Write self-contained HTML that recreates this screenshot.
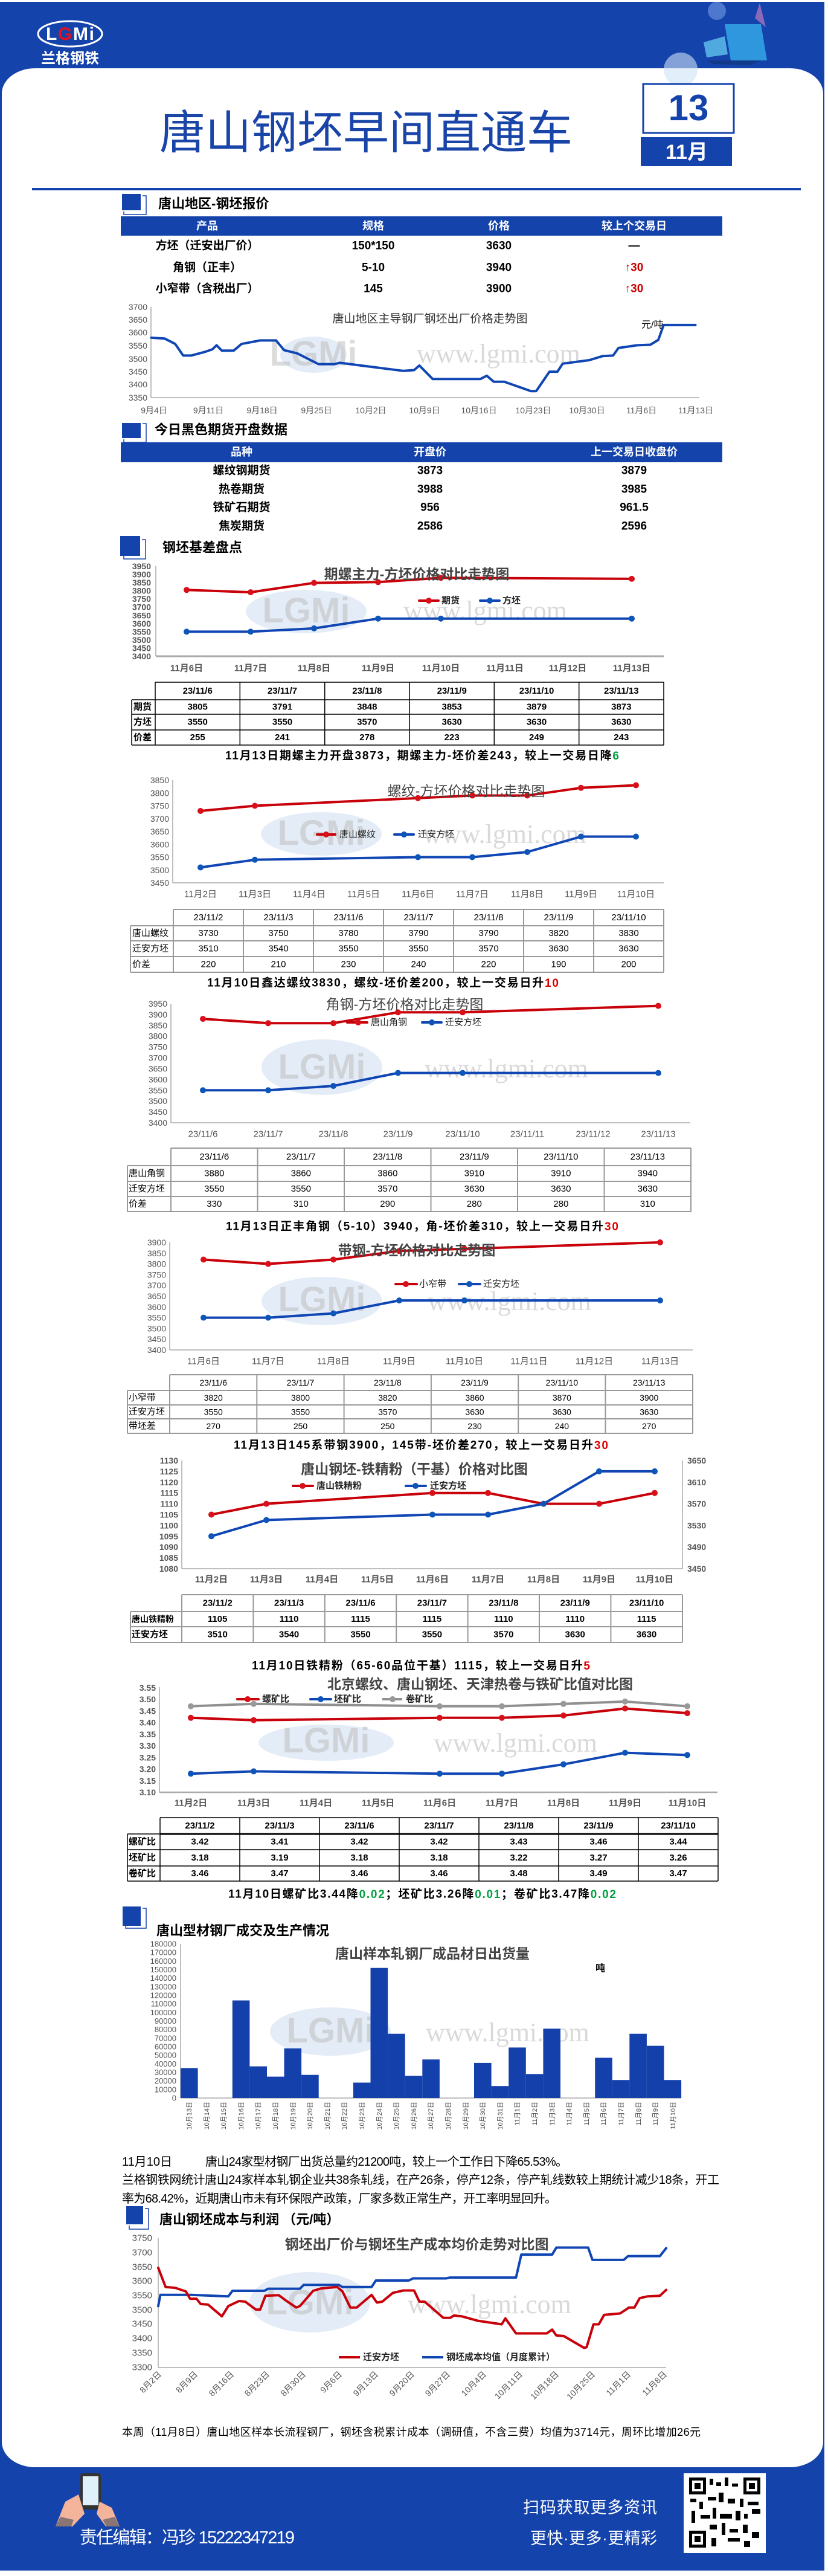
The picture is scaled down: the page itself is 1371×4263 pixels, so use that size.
<!DOCTYPE html>
<html><head><meta charset="utf-8">
<style>
html,body{margin:0;padding:0;background:#fff;}
svg{display:block}
text{font-family:"Liberation Sans","Noto Sans CJK SC",sans-serif;}
.yl{font-size:14px;fill:#555;font-weight:bold;text-anchor:end;dominant-baseline:central}
.xl{font-size:15px;fill:#555;font-weight:bold;text-anchor:middle;dominant-baseline:central}
.tt{font-size:15px;fill:#000;font-weight:bold;text-anchor:middle;dominant-baseline:central}
.tl{font-size:15px;fill:#000;font-weight:bold;dominant-baseline:central}
.cap{font-size:19px;fill:#000;font-weight:bold;dominant-baseline:central}
.sec{font-size:22px;fill:#000;font-weight:bold;dominant-baseline:central}
.th{font-size:18px;fill:#fff;font-weight:bold;text-anchor:middle;dominant-baseline:central}
.td{font-size:19px;fill:#000;font-weight:bold;text-anchor:middle;dominant-baseline:central}
.lg{font-size:15px;fill:#222;font-weight:bold;dominant-baseline:central}
.ctitle{font-size:23px;fill:#444;font-weight:bold;text-anchor:middle;dominant-baseline:central}
.red{fill:none;stroke:#c8000a;stroke-width:4;stroke-linejoin:round;stroke-linecap:round}
.blu{fill:none;stroke:#1046b4;stroke-width:4;stroke-linejoin:round;stroke-linecap:round}
.gry{fill:none;stroke:#909090;stroke-width:4;stroke-linejoin:round}
.rd{fill:#d8101a}.bd{fill:#0d55b8}.gd{fill:#999}
.ax{stroke:#aaa;stroke-width:1.5;fill:none}
.tb{stroke:#000;stroke-width:1.5;fill:none}
.tg{stroke:#999;stroke-width:2;fill:none}
.wm{font-family:"Liberation Serif",serif;font-size:44px;fill:#bbb;opacity:.55}
.wl{font-size:58px;font-weight:bold;fill:#bbb;opacity:.5}
</style></head>
<body>
<svg width="1371" height="4263" viewBox="0 0 1371 4263" xmlns="http://www.w3.org/2000/svg">
<!-- frame -->
<rect x="0" y="3" width="1365" height="4251" fill="#1443ab"/>
<rect x="3" y="113" width="1360" height="3970" rx="55" ry="42" fill="#fff"/>
<!-- header deco -->
<circle cx="1187" cy="18" r="15" fill="#5b86d6" opacity=".8"/>
<circle cx="1127" cy="115" r="28" fill="#cfe3f7" opacity=".6"/>
<polygon points="1200,40 1260,40 1270,100 1210,100" fill="#32a6e6" opacity=".85"/>
<polygon points="1165,70 1200,60 1205,90 1170,95" fill="#5fc4ee" opacity=".8"/>
<polygon points="1170,100 1260,100 1240,108 1180,106" fill="#123a8a"/>
<polygon points="1258,5 1268,45 1250,30" fill="#8a6ab8"/>
<!-- logo -->
<ellipse cx="116" cy="56" rx="53" ry="21" fill="none" stroke="#fff" stroke-width="3"/>
<text x="116" y="66" font-size="30" font-weight="bold" text-anchor="middle" fill="#fff" textLength="80">L<tspan fill="#e5101a">G</tspan>Mi</text>
<text x="116" y="97" font-size="24" text-anchor="middle" fill="#fff" font-weight="bold" textLength="96" dominant-baseline="central">兰格钢铁</text>
<!-- title -->
<text x="264" y="246" font-size="76" fill="#1a45a8" textLength="684" font-family="'Noto Serif CJK SC',serif">唐山钢坯早间直通车</text>
<rect x="1065" y="139" width="150" height="81" fill="#fff" stroke="#1443ab" stroke-width="3"/>
<text x="1140" y="199" font-size="60" font-weight="bold" fill="#1443ab" text-anchor="middle">13</text>
<rect x="1061" y="227" width="151" height="48" fill="#1443ab"/>
<text x="1137" y="252" font-size="34" font-weight="bold" fill="#fff" text-anchor="middle" dominant-baseline="central">11月</text>
<rect x="53" y="311" width="1273" height="4" fill="#1443ab"/>

<!-- section 1 -->
<rect x="202" y="321" width="31" height="27" fill="#1443ab"/><polyline points="236,324 242,324 242,355 205,355 205,350" fill="none" stroke="#1443ab" stroke-width="1.5"/>
<text x="262" y="337" class="sec" font-size="21">唐山地区-钢坯报价</text>
<rect x="200" y="358" width="996" height="32" fill="#1443ab"/>
<text x="343" y="374" class="th">产品</text><text x="618" y="374" class="th">规格</text><text x="826" y="374" class="th">价格</text><text x="1050" y="374" class="th">较上个交易日</text>
<text x="343" y="407" class="td">方坯（迁安出厂价）</text><text x="618" y="407" class="td">150*150</text><text x="826" y="407" class="td">3630</text><text x="1050" y="407" class="td">—</text>
<text x="343" y="443" class="td">角钢（正丰）</text><text x="618" y="443" class="td">5-10</text><text x="826" y="443" class="td">3940</text><text x="1050" y="443" class="td" style="fill:#cc0000">↑30</text>
<text x="343" y="478" class="td">小窄带（含税出厂）</text><text x="618" y="478" class="td">145</text><text x="826" y="478" class="td">3900</text><text x="1050" y="478" class="td" style="fill:#cc0000">↑30</text>

<!-- chart 1 -->
<line x1="250" y1="508" x2="250" y2="658" class="ax"/><line x1="250" y1="658" x2="1158" y2="658" class="ax"/>
<g class="yl" style="font-weight:normal">
<text x="244" y="508">3700</text><text x="244" y="529">3650</text><text x="244" y="550">3600</text><text x="244" y="572">3550</text><text x="244" y="594">3500</text><text x="244" y="615">3450</text><text x="244" y="636">3400</text><text x="244" y="658">3350</text></g>
<g class="xl" style="font-weight:normal;font-size:14px"><text x="255" y="679">9月4日</text><text x="345" y="679">9月11日</text><text x="434" y="679">9月18日</text><text x="524" y="679">9月25日</text><text x="614" y="679">10月2日</text><text x="703" y="679">10月9日</text><text x="793" y="679">10月16日</text><text x="883" y="679">10月23日</text><text x="972" y="679">10月30日</text><text x="1062" y="679">11月6日</text><text x="1152" y="679">11月13日</text></g>
<ellipse cx="519" cy="587" rx="55" ry="30" fill="#c9dcf0" opacity=".5"/><text x="519" y="605" class="wl" text-anchor="middle" font-size="48">LGMi</text>
<text x="690" y="600" class="wm" font-size="36">www.lgmi.com</text>
<text x="712" y="528" font-size="19" fill="#333" text-anchor="middle" dominant-baseline="central">唐山地区主导钢厂钢坯出厂价格走势图</text>
<text x="1062" y="538" font-size="16" fill="#000" dominant-baseline="central">元/吨</text>
<polyline class="blu" stroke-width="3.5" points="250.5,558.9 272.5,560.2 290.1,569.2 303.3,588.4 316.4,588.4 338.4,582.6 351.6,578.1 358.6,571.4 367.4,580.3 386.8,580.3 400,569.2 430.7,563.4 457.1,563.4 470.3,579.4 492.2,584.8 527.4,602.6 553.8,602.6 562.6,600.4 615.3,607.1 668,613.8 685.6,612.5 694.4,604.9 703.2,613.8 716.4,627.2 795.5,627.2 806,621.8 817.5,631.7 835,631.7 879,647.3 887.8,647.3 909.8,615.1 923,615.1 931.7,601.8 975.7,596 997.7,589.3 1015.2,588.4 1024,575.9 1054.8,571.4 1076.8,570.5 1090,562.5 1098.8,537.9 1151.5,537.9"/>

<!-- section 2 -->
<rect x="202" y="700" width="31" height="25" fill="#1443ab"/><polyline points="236,701 242,701 242,732 205,732 205,727" fill="none" stroke="#1443ab" stroke-width="1.5"/>
<text x="256" y="711" class="sec" font-size="21">今日黑色期货开盘数据</text>
<rect x="200" y="732" width="996" height="33" fill="#1443ab"/>
<text x="400" y="748" class="th">品种</text><text x="712" y="748" class="th">开盘价</text><text x="1050" y="748" class="th">上一交易日收盘价</text>
<text x="400" y="779" class="td">螺纹钢期货</text><text x="712" y="779" class="td">3873</text><text x="1050" y="779" class="td">3879</text>
<text x="400" y="810" class="td">热卷期货</text><text x="712" y="810" class="td">3988</text><text x="1050" y="810" class="td">3985</text>
<text x="400" y="840" class="td">铁矿石期货</text><text x="712" y="840" class="td">956</text><text x="1050" y="840" class="td">961.5</text>
<text x="400" y="871" class="td">焦炭期货</text><text x="712" y="871" class="td">2586</text><text x="1050" y="871" class="td">2596</text>

<!-- section 3 -->
<rect x="199" y="887" width="33" height="33" fill="#1443ab"/><polyline points="235,893 241,893 241,925 205,925 205,920" fill="none" stroke="#1443ab" stroke-width="1.5"/>
<text x="269" y="906" class="sec" font-size="24">钢坯基差盘点</text>

<!-- chart A -->
<line x1="258" y1="937" x2="258" y2="1086" class="ax"/><line x1="258" y1="1086" x2="1099" y2="1086" stroke="#aaa" stroke-width="3"/>
<g class="yl"><text x="250" y="937">3950</text><text x="250" y="950.5">3900</text><text x="250" y="964.1">3850</text><text x="250" y="977.6">3800</text><text x="250" y="991.2">3750</text><text x="250" y="1004.7">3700</text><text x="250" y="1018.3">3650</text><text x="250" y="1031.8">3600</text><text x="250" y="1045.4">3550</text><text x="250" y="1058.9">3500</text><text x="250" y="1072.5">3450</text><text x="250" y="1086">3400</text></g>
<g class="xl"><text x="309" y="1106">11月6日</text><text x="415" y="1106">11月7日</text><text x="520" y="1106">11月8日</text><text x="626" y="1106">11月9日</text><text x="730" y="1106">11月10日</text><text x="836" y="1106">11月11日</text><text x="940" y="1106">11月12日</text><text x="1046" y="1106">11月13日</text></g>
<ellipse cx="507" cy="1012" rx="100" ry="36" fill="#c9dcf0" opacity=".5"/><text x="507" y="1030" class="wl" text-anchor="middle">LGMi</text>
<text x="668" y="1025" class="wm">www.lgmi.com</text>
<polyline class="red" points="309,976.3 415,980.1 520,964.6 626,963.3 730,956.2 1046,957.9"/>
<g class="rd"><circle cx="309" cy="976.3" r="5"/><circle cx="415" cy="980.1" r="5"/><circle cx="520" cy="964.6" r="5"/><circle cx="626" cy="963.3" r="5"/><circle cx="730" cy="956.2" r="5"/><circle cx="1046" cy="957.9" r="5"/></g>
<polyline class="blu" points="309,1045.4 415,1045.4 520,1039.9 626,1023.7 730,1023.7 1046,1023.7"/>
<g class="bd"><circle cx="309" cy="1045.4" r="5"/><circle cx="415" cy="1045.4" r="5"/><circle cx="520" cy="1039.9" r="5"/><circle cx="626" cy="1023.7" r="5"/><circle cx="730" cy="1023.7" r="5"/><circle cx="1046" cy="1023.7" r="5"/></g>
<text x="690" y="950" class="ctitle" font-size="25">期螺主力-方坯价格对比走势图</text>
<line x1="694" y1="994" x2="726" y2="994" class="red"/><circle cx="710" cy="994" r="5" class="rd"/><text x="731" y="994" class="lg">期货</text>
<line x1="795" y1="994" x2="827" y2="994" class="blu"/><circle cx="811" cy="994" r="5" class="bd"/><text x="832" y="994" class="lg">方坯</text>
<!-- table A -->
<path class="tb" d="M257,1129H1099M218,1158H1099M218,1182H1099M218,1208H1099M218,1233H1099M218,1158V1233M257,1129V1233M397.3,1129V1233M537.7,1129V1233M678,1129V1233M818.3,1129V1233M958.7,1129V1233M1099,1129V1233"/>
<g class="tt"><text x="327.2" y="1143.5">23/11/6</text><text x="467.5" y="1143.5">23/11/7</text><text x="607.8" y="1143.5">23/11/8</text><text x="748.2" y="1143.5">23/11/9</text><text x="888.5" y="1143.5">23/11/10</text><text x="1028.8" y="1143.5">23/11/13</text>
<text x="327.2" y="1170">3805</text><text x="467.5" y="1170">3791</text><text x="607.8" y="1170">3848</text><text x="748.2" y="1170">3853</text><text x="888.5" y="1170">3879</text><text x="1028.8" y="1170">3873</text>
<text x="327.2" y="1195">3550</text><text x="467.5" y="1195">3550</text><text x="607.8" y="1195">3570</text><text x="748.2" y="1195">3630</text><text x="888.5" y="1195">3630</text><text x="1028.8" y="1195">3630</text>
<text x="327.2" y="1220.5">255</text><text x="467.5" y="1220.5">241</text><text x="607.8" y="1220.5">278</text><text x="748.2" y="1220.5">223</text><text x="888.5" y="1220.5">249</text><text x="1028.8" y="1220.5">243</text></g>
<g class="tl"><text x="221" y="1170">期货</text><text x="221" y="1195">方坯</text><text x="221" y="1220.5">价差</text></g>
<text x="699" y="1251" class="cap" text-anchor="middle" textLength="652">11月13日期螺主力开盘3873，期螺主力-坯价差243，较上一交易日降<tspan fill="#00a040">6</tspan></text>

<!-- chart B -->
<line x1="286" y1="1291" x2="286" y2="1461" class="ax"/><line x1="286" y1="1461" x2="1099" y2="1461" class="ax"/>
<g class="yl" style="font-weight:normal"><text x="280" y="1291">3850</text><text x="280" y="1312.3">3800</text><text x="280" y="1333.5">3750</text><text x="280" y="1354.8">3700</text><text x="280" y="1376">3650</text><text x="280" y="1397.3">3600</text><text x="280" y="1418.5">3550</text><text x="280" y="1439.8">3500</text><text x="280" y="1461">3450</text></g>
<g class="xl" style="font-weight:normal"><text x="332" y="1480">11月2日</text><text x="422" y="1480">11月3日</text><text x="512" y="1480">11月4日</text><text x="602" y="1480">11月5日</text><text x="692" y="1480">11月6日</text><text x="782" y="1480">11月7日</text><text x="873" y="1480">11月8日</text><text x="962" y="1480">11月9日</text><text x="1053" y="1480">11月10日</text></g>
<ellipse cx="532" cy="1380" rx="100" ry="36" fill="#c9dcf0" opacity=".5"/><text x="532" y="1398" class="wl" text-anchor="middle">LGMi</text>
<text x="700" y="1395" class="wm">www.lgmi.com</text>
<polyline class="red" points="332,1342 422,1333.5 692,1320.8 782,1316.5 873,1316.5 962,1303.8 1053,1299.5"/>
<g class="rd"><circle cx="332" cy="1342" r="5"/><circle cx="422" cy="1333.5" r="5"/><circle cx="692" cy="1320.8" r="5"/><circle cx="782" cy="1316.5" r="5"/><circle cx="873" cy="1316.5" r="5"/><circle cx="962" cy="1303.8" r="5"/><circle cx="1053" cy="1299.5" r="5"/></g>
<polyline class="blu" points="332,1435.5 422,1422.8 692,1418.5 782,1418.5 873,1410 962,1384.5 1053,1384.5"/>
<g class="bd"><circle cx="332" cy="1435.5" r="5"/><circle cx="422" cy="1422.8" r="5"/><circle cx="692" cy="1418.5" r="5"/><circle cx="782" cy="1418.5" r="5"/><circle cx="873" cy="1410" r="5"/><circle cx="962" cy="1384.5" r="5"/><circle cx="1053" cy="1384.5" r="5"/></g>
<text x="772" y="1309" class="ctitle" style="font-weight:normal">螺纹-方坯价格对比走势图</text>
<line x1="525" y1="1381" x2="555" y2="1381" class="red"/><circle cx="540" cy="1381" r="5" class="rd"/><text x="562" y="1381" class="lg" style="font-weight:normal">唐山螺纹</text>
<line x1="653" y1="1381" x2="685" y2="1381" class="blu"/><circle cx="669" cy="1381" r="5" class="bd"/><text x="692" y="1381" class="lg" style="font-weight:normal">迁安方坯</text>
<path class="tg" d="M287,1505H1099M216,1532H1099M216,1557H1099M216,1583H1099M216,1609H1099M216,1532V1609M287,1505V1609M403,1505V1609M519,1505V1609M635,1505V1609M751,1505V1609M867,1505V1609M983,1505V1609M1099,1505V1609"/>
<g class="tt" style="font-weight:normal"><text x="345" y="1518.5">23/11/2</text><text x="461" y="1518.5">23/11/3</text><text x="577" y="1518.5">23/11/6</text><text x="693" y="1518.5">23/11/7</text><text x="809" y="1518.5">23/11/8</text><text x="925" y="1518.5">23/11/9</text><text x="1041" y="1518.5">23/11/10</text>
<text x="345" y="1544.5">3730</text><text x="461" y="1544.5">3750</text><text x="577" y="1544.5">3780</text><text x="693" y="1544.5">3790</text><text x="809" y="1544.5">3790</text><text x="925" y="1544.5">3820</text><text x="1041" y="1544.5">3830</text>
<text x="345" y="1570">3510</text><text x="461" y="1570">3540</text><text x="577" y="1570">3550</text><text x="693" y="1570">3550</text><text x="809" y="1570">3570</text><text x="925" y="1570">3630</text><text x="1041" y="1570">3630</text>
<text x="345" y="1596">220</text><text x="461" y="1596">210</text><text x="577" y="1596">230</text><text x="693" y="1596">240</text><text x="809" y="1596">220</text><text x="925" y="1596">190</text><text x="1041" y="1596">200</text></g>
<g class="tl" style="font-weight:normal"><text x="219" y="1544.5">唐山螺纹</text><text x="219" y="1570">迁安方坯</text><text x="219" y="1596">价差</text></g>
<text x="634" y="1627" class="cap" text-anchor="middle" textLength="582">11月10日鑫达螺纹3830，螺纹-坯价差200，较上一交易日升<tspan fill="#d00">10</tspan></text>

<!-- chart C -->
<line x1="283" y1="1661" x2="283" y2="1858" class="ax"/><line x1="283" y1="1858" x2="1143" y2="1858" class="ax"/>
<g class="yl" style="font-weight:normal"><text x="277" y="1661">3950</text><text x="277" y="1678.9">3900</text><text x="277" y="1696.8">3850</text><text x="277" y="1714.7">3800</text><text x="277" y="1732.6">3750</text><text x="277" y="1750.5">3700</text><text x="277" y="1768.5">3650</text><text x="277" y="1786.4">3600</text><text x="277" y="1804.3">3550</text><text x="277" y="1822.2">3500</text><text x="277" y="1840.1">3450</text><text x="277" y="1858">3400</text></g>
<g class="xl" style="font-weight:normal"><text x="336" y="1877">23/11/6</text><text x="444" y="1877">23/11/7</text><text x="552" y="1877">23/11/8</text><text x="659" y="1877">23/11/9</text><text x="766" y="1877">23/11/10</text><text x="873" y="1877">23/11/11</text><text x="982" y="1877">23/11/12</text><text x="1090" y="1877">23/11/13</text></g>
<ellipse cx="533" cy="1766" rx="100" ry="46" fill="#c9dcf0" opacity=".5"/><text x="533" y="1785" class="wl" text-anchor="middle">LGMi</text>
<text x="703" y="1783" class="wm">www.lgmi.com</text>
<polyline class="red" points="336,1686.1 444,1693.2 552,1693.2 659,1675.3 766,1675.3 1090,1664.6"/>
<g class="rd"><circle cx="336" cy="1686.1" r="5"/><circle cx="444" cy="1693.2" r="5"/><circle cx="552" cy="1693.2" r="5"/><circle cx="659" cy="1675.3" r="5"/><circle cx="766" cy="1675.3" r="5"/><circle cx="1090" cy="1664.6" r="5"/></g>
<polyline class="blu" points="336,1804.3 444,1804.3 552,1797.1 659,1775.6 766,1775.6 1090,1775.6"/>
<g class="bd"><circle cx="336" cy="1804.3" r="5"/><circle cx="444" cy="1804.3" r="5"/><circle cx="552" cy="1797.1" r="5"/><circle cx="659" cy="1775.6" r="5"/><circle cx="766" cy="1775.6" r="5"/><circle cx="1090" cy="1775.6" r="5"/></g>
<text x="670" y="1662" class="ctitle" style="font-weight:normal">角钢-方坯价格对比走势图</text>
<line x1="575" y1="1692" x2="608" y2="1692" class="red"/><circle cx="593" cy="1692" r="5" class="rd"/><text x="614" y="1692" class="lg" style="font-weight:normal">唐山角钢</text>
<line x1="699" y1="1692" x2="731" y2="1692" class="blu"/><circle cx="715" cy="1692" r="5" class="bd"/><text x="737" y="1692" class="lg" style="font-weight:normal">迁安方坯</text>
<path class="tg" d="M283,1900H1144M211,1929H1144M211,1955H1144M211,1980H1144M211,2005H1144M211,1929V2005M283,1900V2005M426.5,1900V2005M570,1900V2005M713.5,1900V2005M857,1900V2005M1000.5,1900V2005M1144,1900V2005"/>
<g class="tt" style="font-weight:normal"><text x="354.8" y="1914.5">23/11/6</text><text x="498.3" y="1914.5">23/11/7</text><text x="641.8" y="1914.5">23/11/8</text><text x="785.3" y="1914.5">23/11/9</text><text x="928.8" y="1914.5">23/11/10</text><text x="1072.3" y="1914.5">23/11/13</text>
<text x="354.8" y="1942">3880</text><text x="498.3" y="1942">3860</text><text x="641.8" y="1942">3860</text><text x="785.3" y="1942">3910</text><text x="928.8" y="1942">3910</text><text x="1072.3" y="1942">3940</text>
<text x="354.8" y="1967.5">3550</text><text x="498.3" y="1967.5">3550</text><text x="641.8" y="1967.5">3570</text><text x="785.3" y="1967.5">3630</text><text x="928.8" y="1967.5">3630</text><text x="1072.3" y="1967.5">3630</text>
<text x="354.8" y="1992.5">330</text><text x="498.3" y="1992.5">310</text><text x="641.8" y="1992.5">290</text><text x="785.3" y="1992.5">280</text><text x="928.8" y="1992.5">280</text><text x="1072.3" y="1992.5">310</text></g>
<g class="tl" style="font-weight:normal"><text x="213" y="1942">唐山角钢</text><text x="213" y="1967.5">迁安方坯</text><text x="213" y="1992.5">价差</text></g>
<text x="699" y="2030" class="cap" text-anchor="middle" textLength="650">11月13日正丰角钢（5-10）3940，角-坯价差310，较上一交易日升<tspan fill="#d00">30</tspan></text>

<!-- chart D -->
<line x1="281" y1="2056" x2="281" y2="2234" class="ax"/><line x1="281" y1="2234" x2="1147" y2="2234" class="ax"/>
<g class="yl" style="font-weight:normal"><text x="275" y="2056">3900</text><text x="275" y="2073.8">3850</text><text x="275" y="2091.6">3800</text><text x="275" y="2109.4">3750</text><text x="275" y="2127.2">3700</text><text x="275" y="2145">3650</text><text x="275" y="2162.8">3600</text><text x="275" y="2180.6">3550</text><text x="275" y="2198.4">3500</text><text x="275" y="2216.2">3450</text><text x="275" y="2234">3400</text></g>
<g class="xl" style="font-weight:normal"><text x="337" y="2253">11月6日</text><text x="444" y="2253">11月7日</text><text x="552" y="2253">11月8日</text><text x="661" y="2253">11月9日</text><text x="769" y="2253">11月10日</text><text x="876" y="2253">11月11日</text><text x="984" y="2253">11月12日</text><text x="1093" y="2253">11月13日</text></g>
<ellipse cx="533" cy="2153" rx="100" ry="40" fill="#c9dcf0" opacity=".5"/><text x="533" y="2170" class="wl" text-anchor="middle">LGMi</text>
<text x="708" y="2168" class="wm">www.lgmi.com</text>
<polyline class="red" points="337,2084.5 444,2091.6 552,2084.5 661,2070.2 769,2066.7 1093,2056"/>
<g class="rd"><circle cx="337" cy="2084.5" r="5"/><circle cx="444" cy="2091.6" r="5"/><circle cx="552" cy="2084.5" r="5"/><circle cx="661" cy="2070.2" r="5"/><circle cx="769" cy="2066.7" r="5"/><circle cx="1093" cy="2056" r="5"/></g>
<polyline class="blu" points="337,2180.6 444,2180.6 552,2173.5 661,2152.1 769,2152.1 1093,2152.1"/>
<g class="bd"><circle cx="337" cy="2180.6" r="5"/><circle cx="444" cy="2180.6" r="5"/><circle cx="552" cy="2173.5" r="5"/><circle cx="661" cy="2152.1" r="5"/><circle cx="769" cy="2152.1" r="5"/><circle cx="1093" cy="2152.1" r="5"/></g>
<text x="690" y="2069" class="ctitle">带钢-方坯价格对比走势图</text>
<line x1="655" y1="2125" x2="690" y2="2125" class="red"/><circle cx="672" cy="2125" r="5" class="rd"/><text x="694" y="2125" class="lg" style="font-weight:normal">小窄带</text>
<line x1="760" y1="2125" x2="795" y2="2125" class="blu"/><circle cx="777" cy="2125" r="5" class="bd"/><text x="800" y="2125" class="lg" style="font-weight:normal">迁安方坯</text>
<path class="tg" d="M281,2275H1147M211,2301H1147M211,2325H1147M211,2348H1147M211,2372H1147M211,2301V2372M281,2275V2372M425.3,2275V2372M569.6,2275V2372M713.9,2275V2372M858.2,2275V2372M1002.5,2275V2372M1147,2275V2372"/>
<g class="tt" style="font-weight:normal;font-size:14px"><text x="353.2" y="2288">23/11/6</text><text x="497.5" y="2288">23/11/7</text><text x="641.8" y="2288">23/11/8</text><text x="786" y="2288">23/11/9</text><text x="930.4" y="2288">23/11/10</text><text x="1074.7" y="2288">23/11/13</text>
<text x="353.2" y="2313">3820</text><text x="497.5" y="2313">3800</text><text x="641.8" y="2313">3820</text><text x="786" y="2313">3860</text><text x="930.4" y="2313">3870</text><text x="1074.7" y="2313">3900</text>
<text x="353.2" y="2336.5">3550</text><text x="497.5" y="2336.5">3550</text><text x="641.8" y="2336.5">3570</text><text x="786" y="2336.5">3630</text><text x="930.4" y="2336.5">3630</text><text x="1074.7" y="2336.5">3630</text>
<text x="353.2" y="2360">270</text><text x="497.5" y="2360">250</text><text x="641.8" y="2360">250</text><text x="786" y="2360">230</text><text x="930.4" y="2360">240</text><text x="1074.7" y="2360">270</text></g>
<g class="tl" style="font-weight:normal"><text x="213" y="2313">小窄带</text><text x="213" y="2336.5">迁安方坯</text><text x="213" y="2360">带坯差</text></g>
<text x="697" y="2392" class="cap" text-anchor="middle" textLength="620">11月13日145系带钢3900，145带-坯价差270，较上一交易日升<tspan fill="#d00">30</tspan></text>

<!-- chart E -->
<line x1="301" y1="2417" x2="301" y2="2596" class="ax"/><line x1="1130" y1="2417" x2="1130" y2="2596" class="ax"/><line x1="301" y1="2596" x2="1130" y2="2596" class="ax"/>
<g class="yl"><text x="295" y="2417">1130</text><text x="295" y="2434.9">1125</text><text x="295" y="2452.8">1120</text><text x="295" y="2470.7">1115</text><text x="295" y="2488.6">1110</text><text x="295" y="2506.5">1105</text><text x="295" y="2524.4">1100</text><text x="295" y="2542.3">1095</text><text x="295" y="2560.2">1090</text><text x="295" y="2578.1">1085</text><text x="295" y="2596">1080</text></g>
<g class="yl" style="text-anchor:start"><text x="1138" y="2417">3650</text><text x="1138" y="2452.8">3610</text><text x="1138" y="2488.6">3570</text><text x="1138" y="2524.4">3530</text><text x="1138" y="2560.2">3490</text><text x="1138" y="2596">3450</text></g>
<g class="xl"><text x="350" y="2614">11月2日</text><text x="441" y="2614">11月3日</text><text x="533" y="2614">11月4日</text><text x="625" y="2614">11月5日</text><text x="716" y="2614">11月6日</text><text x="808" y="2614">11月7日</text><text x="900" y="2614">11月8日</text><text x="992" y="2614">11月9日</text><text x="1084" y="2614">11月10日</text></g>
<polyline class="red" points="350,2506.5 441,2488.6 716,2470.7 808,2470.7 900,2488.6 992,2488.6 1084,2470.7"/>
<g class="rd"><circle cx="350" cy="2506.5" r="5"/><circle cx="441" cy="2488.6" r="5"/><circle cx="716" cy="2470.7" r="5"/><circle cx="808" cy="2470.7" r="5"/><circle cx="900" cy="2488.6" r="5"/><circle cx="992" cy="2488.6" r="5"/><circle cx="1084" cy="2470.7" r="5"/></g>
<polyline class="blu" points="350,2542.3 441,2515.5 716,2506.5 808,2506.5 900,2488.6 992,2434.9 1084,2434.9"/>
<g class="bd"><circle cx="350" cy="2542.3" r="5"/><circle cx="441" cy="2515.5" r="5"/><circle cx="716" cy="2506.5" r="5"/><circle cx="808" cy="2506.5" r="5"/><circle cx="900" cy="2488.6" r="5"/><circle cx="992" cy="2434.9" r="5"/><circle cx="1084" cy="2434.9" r="5"/></g>
<text x="686" y="2431" class="ctitle" font-size="26">唐山钢坯-铁精粉（干基）价格对比图</text>
<line x1="485" y1="2459" x2="518" y2="2459" class="red"/><circle cx="501" cy="2459" r="5" class="rd"/><text x="524" y="2459" class="lg">唐山铁精粉</text>
<line x1="672" y1="2459" x2="705" y2="2459" class="blu"/><circle cx="688" cy="2459" r="5" class="bd"/><text x="712" y="2459" class="lg">迁安方坯</text>
<path class="tg" d="M301,2639H1130M216,2667H1130M216,2692H1130M216,2718H1130M216,2667V2718M301,2639V2718M419.4,2639V2718M537.8,2639V2718M656.2,2639V2718M774.6,2639V2718M893,2639V2718M1011.4,2639V2718M1130,2639V2718"/>
<g class="tt"><text x="360.2" y="2653">23/11/2</text><text x="478.6" y="2653">23/11/3</text><text x="597" y="2653">23/11/6</text><text x="715.4" y="2653">23/11/7</text><text x="833.8" y="2653">23/11/8</text><text x="952.2" y="2653">23/11/9</text><text x="1070.6" y="2653">23/11/10</text>
<text x="360.2" y="2679.5">1105</text><text x="478.6" y="2679.5">1110</text><text x="597" y="2679.5">1115</text><text x="715.4" y="2679.5">1115</text><text x="833.8" y="2679.5">1110</text><text x="952.2" y="2679.5">1110</text><text x="1070.6" y="2679.5">1115</text>
<text x="360.2" y="2705">3510</text><text x="478.6" y="2705">3540</text><text x="597" y="2705">3550</text><text x="715.4" y="2705">3550</text><text x="833.8" y="2705">3570</text><text x="952.2" y="2705">3630</text><text x="1070.6" y="2705">3630</text></g>
<g class="tl"><text x="218" y="2679.5" style="font-size:14px">唐山铁精粉</text><text x="218" y="2705">迁安方坯</text></g>
<text x="697" y="2757" class="cap" text-anchor="middle" textLength="560">11月10日铁精粉（65-60品位干基）1115，较上一交易日升<tspan fill="#d00">5</tspan></text>

<!-- chart F -->
<text x="795" y="2787" class="ctitle" font-size="26">北京螺纹、唐山钢坯、天津热卷与铁矿比值对比图</text>
<line x1="264" y1="2792" x2="264" y2="2966" class="ax"/><line x1="264" y1="2966" x2="1188" y2="2966" stroke="#aaa" stroke-width="2.5"/>
<g class="yl"><text x="258" y="2792.8">3.55</text><text x="258" y="2812">3.50</text><text x="258" y="2831.3">3.45</text><text x="258" y="2850.5">3.40</text><text x="258" y="2869.8">3.35</text><text x="258" y="2889">3.30</text><text x="258" y="2908.3">3.25</text><text x="258" y="2927.5">3.20</text><text x="258" y="2946.8">3.15</text><text x="258" y="2966">3.10</text></g>
<g class="xl"><text x="316" y="2984">11月2日</text><text x="420" y="2984">11月3日</text><text x="523" y="2984">11月4日</text><text x="626" y="2984">11月5日</text><text x="728" y="2984">11月6日</text><text x="831" y="2984">11月7日</text><text x="933" y="2984">11月8日</text><text x="1035" y="2984">11月9日</text><text x="1138" y="2984">11月10日</text></g>
<ellipse cx="540" cy="2884" rx="112" ry="30" fill="#c9dcf0" opacity=".5"/><text x="540" y="2900" class="wl" text-anchor="middle">LGMi</text>
<text x="718" y="2899" class="wm">www.lgmi.com</text>
<polyline class="gry" points="316,2823.6 420,2819.7 728,2823.6 831,2823.6 933,2819.7 1035,2815.9 1138,2823.6"/>
<g class="gd"><circle cx="316" cy="2823.6" r="5"/><circle cx="420" cy="2819.7" r="5"/><circle cx="728" cy="2823.6" r="5"/><circle cx="831" cy="2823.6" r="5"/><circle cx="933" cy="2819.7" r="5"/><circle cx="1035" cy="2815.9" r="5"/><circle cx="1138" cy="2823.6" r="5"/></g>
<polyline class="red" points="316,2842.8 420,2846.7 728,2842.8 831,2842.8 933,2839 1035,2827.4 1138,2835.1"/>
<g class="rd"><circle cx="316" cy="2842.8" r="5"/><circle cx="420" cy="2846.7" r="5"/><circle cx="728" cy="2842.8" r="5"/><circle cx="831" cy="2842.8" r="5"/><circle cx="933" cy="2839" r="5"/><circle cx="1035" cy="2827.4" r="5"/><circle cx="1138" cy="2835.1" r="5"/></g>
<polyline class="blu" points="316,2935.2 420,2931.4 728,2935.2 831,2935.2 933,2919.8 1035,2900.6 1138,2904.4"/>
<g class="bd"><circle cx="316" cy="2935.2" r="5"/><circle cx="420" cy="2931.4" r="5"/><circle cx="728" cy="2935.2" r="5"/><circle cx="831" cy="2935.2" r="5"/><circle cx="933" cy="2919.8" r="5"/><circle cx="1035" cy="2900.6" r="5"/><circle cx="1138" cy="2904.4" r="5"/></g>
<line x1="393" y1="2812" x2="428" y2="2812" class="red"/><circle cx="410" cy="2812" r="5" class="rd"/><text x="434" y="2812" class="lg">螺矿比</text>
<line x1="514" y1="2812" x2="548" y2="2812" class="blu"/><circle cx="531" cy="2812" r="5" class="bd"/><text x="553" y="2812" class="lg">坯矿比</text>
<line x1="633" y1="2812" x2="666" y2="2812" class="gry"/><circle cx="650" cy="2812" r="5" class="gd"/><text x="672" y="2812" class="lg">卷矿比</text>
<path class="tb" d="M265,3008H1189M211,3035H1189M211,3061H1189M211,3088H1189M211,3113H1189M211,3035V3113M265,3008V3113M397,3008V3113M529,3008V3113M661,3008V3113M793,3008V3113M925,3008V3113M1057,3008V3113M1189,3008V3113"/>
<line x1="265" y1="3035" x2="1189" y2="3035" stroke="#000" stroke-width="3"/>
<g class="tt"><text x="331" y="3021.5">23/11/2</text><text x="463" y="3021.5">23/11/3</text><text x="595" y="3021.5">23/11/6</text><text x="727" y="3021.5">23/11/7</text><text x="859" y="3021.5">23/11/8</text><text x="991" y="3021.5">23/11/9</text><text x="1123" y="3021.5">23/11/10</text>
<text x="331" y="3048">3.42</text><text x="463" y="3048">3.41</text><text x="595" y="3048">3.42</text><text x="727" y="3048">3.42</text><text x="859" y="3048">3.43</text><text x="991" y="3048">3.46</text><text x="1123" y="3048">3.44</text>
<text x="331" y="3074.5">3.18</text><text x="463" y="3074.5">3.19</text><text x="595" y="3074.5">3.18</text><text x="727" y="3074.5">3.18</text><text x="859" y="3074.5">3.22</text><text x="991" y="3074.5">3.27</text><text x="1123" y="3074.5">3.26</text>
<text x="331" y="3100.5">3.46</text><text x="463" y="3100.5">3.47</text><text x="595" y="3100.5">3.46</text><text x="727" y="3100.5">3.46</text><text x="859" y="3100.5">3.48</text><text x="991" y="3100.5">3.49</text><text x="1123" y="3100.5">3.47</text></g>
<g class="tl"><text x="213" y="3048">螺矿比</text><text x="213" y="3074.5">坯矿比</text><text x="213" y="3100.5">卷矿比</text></g>
<text x="699" y="3135" class="cap" text-anchor="middle" textLength="642">11月10日螺矿比3.44降<tspan fill="#00a040">0.02</tspan>；坯矿比3.26降<tspan fill="#00a040">0.01</tspan>；卷矿比3.47降<tspan fill="#00a040">0.02</tspan></text>

<!-- section G -->
<rect x="203" y="3155" width="30" height="32" fill="#1443ab"/><polyline points="236,3158 242,3158 242,3191 208,3191 208,3186" fill="none" stroke="#1443ab" stroke-width="1.5"/>
<text x="259" y="3195" class="sec" font-size="20">唐山型材钢厂成交及生产情况</text>
<line x1="299" y1="3217" x2="299" y2="3472" class="ax"/><line x1="299" y1="3472" x2="1128" y2="3472" class="ax"/>
<g class="yl" style="font-weight:normal;font-size:13px"><text x="292" y="3217">180000</text><text x="292" y="3231.2">170000</text><text x="292" y="3245.3">160000</text><text x="292" y="3259.5">150000</text><text x="292" y="3273.7">140000</text><text x="292" y="3287.8">130000</text><text x="292" y="3302">120000</text><text x="292" y="3316.2">110000</text><text x="292" y="3330.3">100000</text><text x="292" y="3344.5">90000</text><text x="292" y="3358.7">80000</text><text x="292" y="3372.8">70000</text><text x="292" y="3387">60000</text><text x="292" y="3401.2">50000</text><text x="292" y="3415.3">40000</text><text x="292" y="3429.5">30000</text><text x="292" y="3443.7">20000</text><text x="292" y="3457.8">10000</text><text x="292" y="3472">0</text></g>
<text x="716" y="3233" class="ctitle" font-size="21">唐山样本轧钢厂成品材日出货量</text>
<text x="986" y="3258" font-size="16" font-weight="bold" dominant-baseline="central">吨</text>
<ellipse cx="547" cy="3362" rx="100" ry="40" fill="#c9dcf0" opacity=".5"/><text x="547" y="3380" class="wl" text-anchor="middle">LGMi</text>
<text x="705" y="3378" class="wm">www.lgmi.com</text>
<g fill="#1440ab">
<rect x="299" y="3422.4" width="28.6" height="49.6"/>
<rect x="384.8" y="3310.5" width="28.6" height="161.5"/>
<rect x="413.4" y="3419.6" width="28.6" height="52.4"/>
<rect x="442" y="3436.6" width="28.6" height="35.4"/>
<rect x="470.5" y="3389.8" width="28.6" height="82.2"/>
<rect x="499.1" y="3433.7" width="28.6" height="38.3"/>
<rect x="584.9" y="3446.5" width="28.6" height="25.5"/>
<rect x="613.5" y="3256.7" width="28.6" height="215.3"/>
<rect x="642.1" y="3365.7" width="28.6" height="106.3"/>
<rect x="670.7" y="3435.2" width="28.6" height="36.8"/>
<rect x="699.3" y="3408.2" width="28.6" height="63.8"/>
<rect x="785" y="3413.9" width="28.6" height="58.1"/>
<rect x="813.6" y="3452.2" width="28.6" height="19.8"/>
<rect x="842.2" y="3388.4" width="28.6" height="83.6"/>
<rect x="870.8" y="3432.3" width="28.6" height="39.7"/>
<rect x="899.4" y="3357.2" width="28.6" height="114.8"/>
<rect x="985.2" y="3405.4" width="28.6" height="66.6"/>
<rect x="1013.8" y="3442.2" width="28.6" height="29.8"/>
<rect x="1042.3" y="3365.7" width="28.6" height="106.3"/>
<rect x="1070.9" y="3385.6" width="28.6" height="86.4"/>
<rect x="1099.5" y="3442.2" width="28.6" height="29.8"/>
</g>
<g font-size="11" fill="#444" text-anchor="end">
<text transform="translate(317,3478) rotate(-90)">10月13日</text><text transform="translate(346,3478) rotate(-90)">10月14日</text><text transform="translate(374,3478) rotate(-90)">10月15日</text><text transform="translate(403,3478) rotate(-90)">10月16日</text><text transform="translate(431,3478) rotate(-90)">10月17日</text><text transform="translate(460,3478) rotate(-90)">10月18日</text><text transform="translate(489,3478) rotate(-90)">10月19日</text><text transform="translate(517,3478) rotate(-90)">10月20日</text><text transform="translate(546,3478) rotate(-90)">10月21日</text><text transform="translate(574,3478) rotate(-90)">10月22日</text><text transform="translate(603,3478) rotate(-90)">10月23日</text><text transform="translate(632,3478) rotate(-90)">10月24日</text><text transform="translate(660,3478) rotate(-90)">10月25日</text><text transform="translate(689,3478) rotate(-90)">10月26日</text><text transform="translate(717,3478) rotate(-90)">10月27日</text><text transform="translate(746,3478) rotate(-90)">10月28日</text><text transform="translate(775,3478) rotate(-90)">10月29日</text><text transform="translate(803,3478) rotate(-90)">10月30日</text><text transform="translate(832,3478) rotate(-90)">10月31日</text><text transform="translate(860,3478) rotate(-90)">11月1日</text><text transform="translate(889,3478) rotate(-90)">11月2日</text><text transform="translate(918,3478) rotate(-90)">11月3日</text><text transform="translate(946,3478) rotate(-90)">11月4日</text><text transform="translate(975,3478) rotate(-90)">11月5日</text><text transform="translate(1003,3478) rotate(-90)">11月6日</text><text transform="translate(1032,3478) rotate(-90)">11月7日</text><text transform="translate(1061,3478) rotate(-90)">11月8日</text><text transform="translate(1089,3478) rotate(-90)">11月9日</text><text transform="translate(1118,3478) rotate(-90)">11月10日</text>
</g>
<g font-size="20" fill="#000" dominant-baseline="central">
<text x="202" y="3578">11月10日</text>
<text x="340" y="3578" textLength="600">唐山24家型材钢厂出货总量约21200吨，较上一个工作日下降65.53%。</text>
<text x="202" y="3608" textLength="989">兰格钢铁网统计唐山24家样本轧钢企业共38条轧线，在产26条，停产12条，停产轧线数较上期统计减少18条，开工</text>
<text x="202" y="3639" textLength="720">率为68.42%，近期唐山市未有环保限产政策，厂家多数正常生产，开工率明显回升。</text>
</g>
<!-- section H -->
<rect x="209" y="3651" width="28" height="30" fill="#1443ab"/><polyline points="240,3655 246,3655 246,3689 214,3689 214,3683" fill="none" stroke="#1443ab" stroke-width="1.5"/>
<text x="264" y="3673" class="sec" font-size="20">唐山钢坯成本与利润 （元/吨）</text>
<line x1="262" y1="3704" x2="262" y2="3918" class="ax"/><line x1="262" y1="3918" x2="1103" y2="3918" class="ax"/>
<g class="yl" style="font-weight:normal;font-size:15px"><text x="252" y="3704">3750</text><text x="252" y="3728">3700</text><text x="252" y="3752">3650</text><text x="252" y="3775">3600</text><text x="252" y="3799">3550</text><text x="252" y="3823">3500</text><text x="252" y="3846">3450</text><text x="252" y="3870">3400</text><text x="252" y="3894">3350</text><text x="252" y="3918">3300</text></g>
<text x="690" y="3714" class="ctitle" font-size="19">钢坯出厂价与钢坯生产成本均价走势对比图</text>
<ellipse cx="513" cy="3810" rx="100" ry="50" fill="#c9dcf0" opacity=".5"/><text x="513" y="3830" class="wl" text-anchor="middle">LGMi</text>
<text x="675" y="3828" class="wm">www.lgmi.com</text>
<polyline class="blu" stroke-width="3" points="262,3816.3 265.5,3797.8 316.4,3797.8 378,3800.2 385,3791 437.7,3791 443.9,3787.6 496.6,3787.6 502.8,3781.3 560.8,3781.3 567,3784.7 615.3,3784.7 622.3,3774 676.8,3774 683.9,3770.5 738.4,3770.5 745.4,3769.1 854.4,3769.1 863.2,3731.1 914.2,3731.1 921.2,3719.5 973.9,3719.5 981,3739.9 1032.8,3739.9 1039.9,3733.6 1092.6,3733.6 1103.1,3720.4"/>
<polyline class="red" stroke-width="3" points="262,3753 274.2,3784.7 290.1,3786.1 307.7,3792 314.7,3804.1 325.2,3804.1 332.3,3812.9 344.6,3813.9 367.4,3833.3 378,3816.3 395.6,3808 406.1,3809 423.7,3822.1 430.7,3822.1 439.5,3799.3 461.5,3798.3 474.7,3808 490.5,3818.7 496.6,3816.3 518.6,3791 531.8,3787.1 558.2,3784.7 567,3792 580.1,3818.7 590.7,3818.7 615.3,3797.8 624.1,3810.5 632.9,3809 650.5,3794.4 668,3790.5 685.6,3790.5 694.4,3809 703.2,3809 734,3835.8 745.4,3835.8 751.5,3831.9 764.7,3833.3 791.1,3840.6 830.7,3846.5 836.8,3836.7 854.4,3861.5 905.4,3861.5 914.2,3855.2 921.2,3864.9 933.5,3865.9 966.9,3885.4 971.3,3884.4 982.7,3846.5 991.5,3846.5 1000.3,3830.9 1026.7,3828.5 1041.6,3818.7 1050.4,3818.7 1059.2,3803.2 1072.4,3800.2 1092.6,3799.3 1103.1,3789.5"/>
<line x1="561" y1="3901" x2="596" y2="3901" stroke="#c8000a" stroke-width="4"/><text x="601" y="3901" class="lg">迁安方坯</text>
<line x1="699" y1="3901" x2="734" y2="3901" stroke="#1046b4" stroke-width="4"/><text x="739" y="3901" class="lg">钢坯成本均值（月度累计）</text>
<g font-size="14" fill="#555" text-anchor="end">
<text transform="translate(268,3930) rotate(-45)">8月2日</text><text transform="translate(328,3930) rotate(-45)">8月9日</text><text transform="translate(388,3930) rotate(-45)">8月16日</text><text transform="translate(447,3930) rotate(-45)">8月23日</text><text transform="translate(507,3930) rotate(-45)">8月30日</text><text transform="translate(567,3930) rotate(-45)">9月6日</text><text transform="translate(627,3930) rotate(-45)">9月13日</text><text transform="translate(687,3930) rotate(-45)">9月20日</text><text transform="translate(746,3930) rotate(-45)">9月27日</text><text transform="translate(806,3930) rotate(-45)">10月4日</text><text transform="translate(866,3930) rotate(-45)">10月11日</text><text transform="translate(926,3930) rotate(-45)">10月18日</text><text transform="translate(986,3930) rotate(-45)">10月25日</text><text transform="translate(1045,3930) rotate(-45)">11月1日</text><text transform="translate(1105,3930) rotate(-45)">11月8日</text>
</g>
<text x="202" y="4025" font-size="18" dominant-baseline="central" textLength="958">本周（11月8日）唐山地区样本长流程钢厂，钢坯含税累计成本（调研值，不含三费）均值为3714元，周环比增加26元</text>

<!-- footer -->
<rect x="133" y="4093" width="34" height="60" rx="4" fill="#333"/><rect x="137" y="4098" width="26" height="48" fill="#dff0fb"/>
<polygon points="92,4181 108,4140 130,4128 140,4160 120,4181" fill="#f4b49c"/>
<polygon points="92,4181 100,4165 122,4170 118,4181" fill="#8a7575"/>
<polygon points="198,4181 185,4150 165,4140 160,4160 175,4181" fill="#f4b49c"/>
<polygon points="198,4181 190,4165 170,4170 176,4181" fill="#8a7575"/>
<text x="132" y="4200" font-size="29" fill="#fff" dominant-baseline="central" textLength="356">责任编辑：冯珍 15222347219</text>
<text x="1088" y="4150" font-size="27" fill="#fff" text-anchor="end" dominant-baseline="central" textLength="222">扫码获取更多资讯</text>
<text x="1088" y="4201" font-size="27" fill="#fff" text-anchor="end" dominant-baseline="central" textLength="210">更快·更多·更精彩</text>
<rect x="1132" y="4093" width="136" height="132" fill="#fff"/>
<g fill="#000">
<rect x="1141" y="4100" width="28" height="28"/><rect x="1146" y="4105" width="18" height="18" fill="#fff"/><rect x="1150" y="4109" width="10" height="10"/>
<rect x="1231" y="4100" width="28" height="28"/><rect x="1236" y="4105" width="18" height="18" fill="#fff"/><rect x="1240" y="4109" width="10" height="10"/>
<rect x="1141" y="4188" width="28" height="28"/><rect x="1146" y="4193" width="18" height="18" fill="#fff"/><rect x="1150" y="4197" width="10" height="10"/>
<rect x="1175" y="4102" width="6" height="10"/><rect x="1186" y="4108" width="8" height="6"/><rect x="1200" y="4100" width="6" height="14"/><rect x="1212" y="4110" width="10" height="5"/>
<rect x="1143" y="4135" width="10" height="6"/><rect x="1158" y="4140" width="6" height="12"/><rect x="1172" y="4132" width="14" height="6"/><rect x="1190" y="4125" width="8" height="16"/><rect x="1205" y="4135" width="12" height="8"/><rect x="1225" y="4135" width="6" height="14"/><rect x="1238" y="4140" width="18" height="6"/>
<rect x="1145" y="4155" width="6" height="20"/><rect x="1160" y="4162" width="16" height="6"/><rect x="1180" y="4150" width="6" height="18"/><rect x="1192" y="4160" width="20" height="8"/><rect x="1218" y="4155" width="8" height="16"/><rect x="1232" y="4160" width="6" height="8"/><rect x="1245" y="4152" width="14" height="8"/>
<rect x="1175" y="4178" width="12" height="8"/><rect x="1195" y="4175" width="6" height="20"/><rect x="1208" y="4185" width="14" height="6"/><rect x="1230" y="4178" width="8" height="14"/><rect x="1245" y="4190" width="12" height="10"/><rect x="1178" y="4200" width="8" height="14"/><rect x="1205" y="4200" width="20" height="6"/><rect x="1232" y="4205" width="10" height="10"/>
</g>
</svg>
</body></html>
